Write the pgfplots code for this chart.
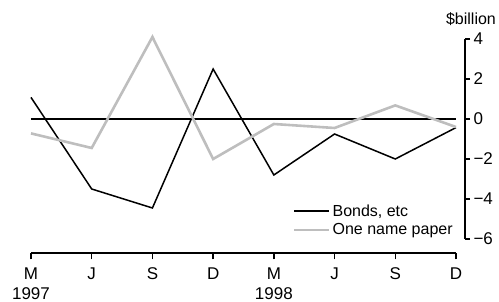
\documentclass[border=0pt]{standalone}
\usepackage{fontspec}
\setmainfont{Liberation Sans}
\usepackage{pgfplots}
\pgfplotsset{compat=1.18}
\definecolor{grayline}{RGB}{190,190,190}
\begin{document}
\begin{tikzpicture}[x=1pt,y=1pt]
\useasboundingbox (0,0) rectangle (499,302);
\begin{axis}[
  at={(31pt,49pt)}, anchor=south west,
  scale only axis, width=425pt, height=214pt,
  xmin=0, xmax=7, ymin=-6.7, ymax=4,
  axis x line=bottom, axis y line=none,
  axis line style={line width=1.4pt, -},
  xtick={0,...,7},
  xticklabels={{M\\1997},J,S,D,{M\\1998},J,S,D},
  xticklabel style={align=center, anchor=north, font=\fontsize{17}{20}\selectfont, yshift=-4.5pt},
  major tick length=6.5pt, tick style={line width=1.4pt, black},
  xtick align=outside,
  clip=false,
  legend style={at={(0.616,0.237)}, anchor=north west, draw=none, fill=none,
    font=\fontsize{16}{19}\selectfont, inner sep=0pt, row sep=2pt},
  legend cell align=left,
  legend image code/.code={\draw[#1] (0pt,0pt) -- (35pt,0pt);},
]
\addplot[black, line width=1.4pt, forget plot] coordinates {(0,0) (7,0)};
\addplot[black, line width=1.5pt] coordinates {
(0,1.08) (1,-3.5) (2,-4.45) (3,2.5) (4,-2.8) (5,-0.75) (6,-2.0) (7,-0.43)};
\addlegendentry{Bonds, etc}
\addplot[grayline, line width=2.6pt] coordinates {
(0,-0.72) (1,-1.45) (2,4.1) (3,-2.0) (4,-0.25) (5,-0.45) (6,0.68) (7,-0.4)};
\addlegendentry{One name paper}
\end{axis}
\begin{axis}[
  at={(455pt,63pt)}, anchor=south west,
  scale only axis, width=10pt, height=200pt,
  xmin=0, xmax=1, ymin=-6, ymax=4,
  axis x line=none, axis y line=right,
  axis line style={line width=1.4pt, -},
  ytick={-6,-4,-2,0,2,4},
  yticklabels={−6,−4,−2,0,2,4},
  yticklabel style={anchor=west, font=\fontsize{17}{20}\selectfont, xshift=0pt},
  major tick length=5pt, tick style={line width=1.4pt, black},
  tick align=outside,
]
\end{axis}
\node[font=\fontsize{16}{19}\selectfont] at (471,283) {\$billion};
\end{tikzpicture}
\end{document}
